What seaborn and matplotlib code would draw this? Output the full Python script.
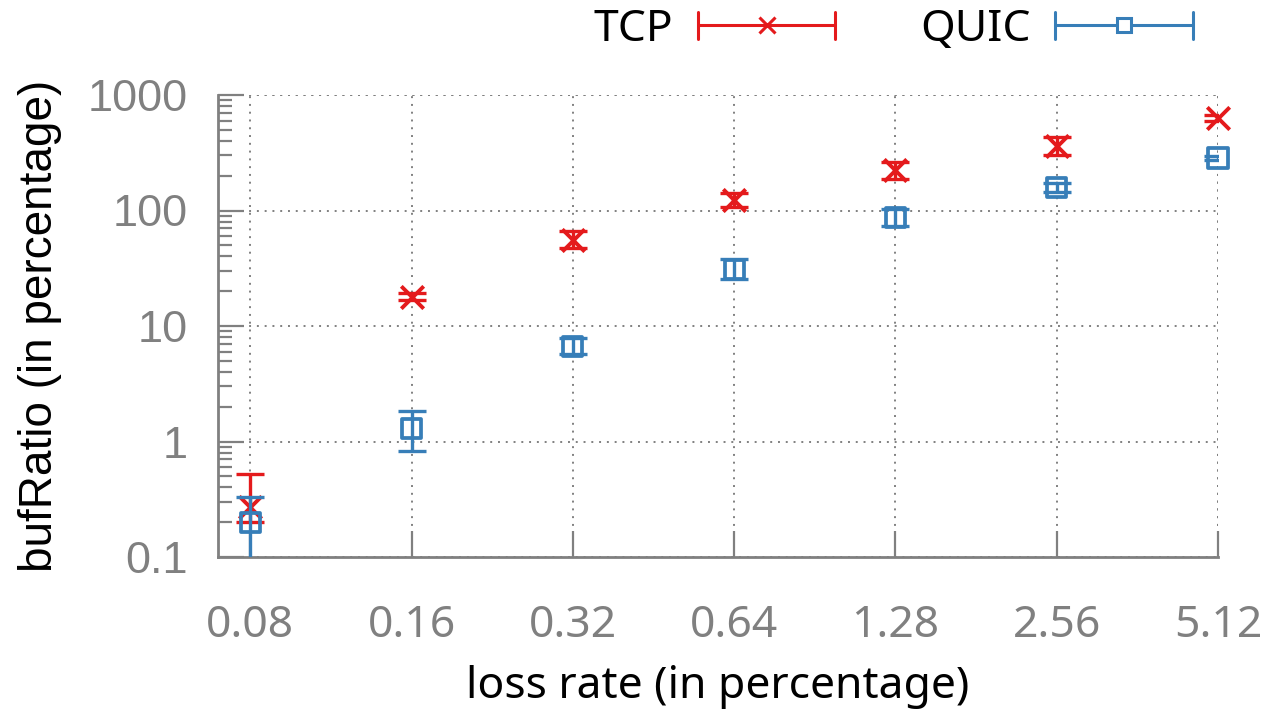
import numpy as np
import pandas as pd
import matplotlib
matplotlib.use("Agg")
import matplotlib.pyplot as plt
import seaborn as sns
from matplotlib.legend_handler import HandlerBase
from matplotlib.lines import Line2D
from matplotlib.ticker import LogLocator, NullFormatter

# ---- data ----
loss_rates = ["0.08", "0.16", "0.32", "0.64", "1.28", "2.56", "5.12"]
tcp_mean = [0.27, 18, 55, 123, 222, 365, 630]
tcp_low = [0.20, 16.8, 47, 107, 188, 305, 600]
tcp_high = [0.52, 19.5, 66, 142, 262, 430, 665]
quic_mean = [0.20, 1.30, 6.7, 31, 87, 157, 285]
quic_low = [0.05, 0.82, 5.7, 25.5, 74, 144, 272]
quic_high = [0.33, 1.82, 7.8, 38, 103, 172, 298]

yticks = [0.1, 1, 10, 100, 1000]
ytick_labels = ["0.1", "1", "10", "100", "1000"]

RED = "#e41a1c"
BLUE = "#377eb8"
GRAY = "#808080"

sns.set_style("white")
plt.rcParams["font.family"] = ["Noto Sans", "DejaVu Sans"]
plt.rcParams["text.color"] = "black"

fig = plt.figure(figsize=(12.69, 7.11), dpi=100)
ax = fig.add_axes([218 / 1269, 1 - 557 / 711, 1000 / 1269, (557 - 95) / 711])

x = np.arange(len(loss_rates))
df = pd.DataFrame({
    "x": np.concatenate([x, x]),
    "value": tcp_mean + quic_mean,
    "proto": ["TCP"] * len(x) + ["QUIC"] * len(x),
})

# error bars (clipped at the plot border)
ax.errorbar(x, tcp_mean,
            yerr=[np.array(tcp_mean) - np.array(tcp_low), np.array(tcp_high) - np.array(tcp_mean)],
            fmt="none", ecolor=RED, elinewidth=2.4, capsize=10, capthick=2.4, zorder=3)
ax.errorbar(x, quic_mean,
            yerr=[np.array(quic_mean) - np.array(quic_low), np.array(quic_high) - np.array(quic_mean)],
            fmt="none", ecolor=BLUE, elinewidth=2.4, capsize=10, capthick=2.4, zorder=5)

# markers via seaborn
sns.scatterplot(data=df[df.proto == "TCP"], x="x", y="value", ax=ax, marker="x",
                s=260, color=RED, linewidth=2.8, zorder=4, clip_on=False, legend=False)
sns.scatterplot(data=df[df.proto == "QUIC"], x="x", y="value", ax=ax, marker="s",
                s=190, facecolor="none", edgecolor=BLUE, linewidth=2.7, zorder=6,
                clip_on=False, legend=False)

ax.set_yscale("log")
ax.set_ylim(0.1, 1000)
ax.set_xlim(-0.2, 6)

ax.set_xticks(x)
ax.set_xticklabels(loss_rates, fontsize=32, color=GRAY, fontfamily="Noto Sans")
ax.set_yticks(yticks)
ax.set_yticklabels(ytick_labels, fontsize=32.5, color=GRAY, fontfamily="Liberation Sans")
ax.yaxis.set_minor_locator(LogLocator(base=10, subs=np.arange(2, 10)))
ax.yaxis.set_minor_formatter(NullFormatter())

ax.tick_params(axis="x", which="major", direction="in", length=19, width=1.6,
               color=GRAY, pad=34, bottom=True, top=False)
ax.tick_params(axis="y", which="major", direction="in", length=19, width=1.6,
               color=GRAY, pad=22, left=True, right=False)
ax.tick_params(axis="y", which="minor", direction="in", length=10, width=1.6,
               color=GRAY, left=True, right=False)

for side in ["top", "right"]:
    ax.spines[side].set_visible(False)
for side in ["left", "bottom"]:
    ax.spines[side].set_color(GRAY)
    ax.spines[side].set_linewidth(2)

ax.grid(True, which="major", axis="both", color=GRAY, linestyle=(0, (1, 3)), linewidth=1.4)
ax.set_axisbelow(True)
# top and right dotted border lines (gnuplot grid look)
ax.axhline(1000, color=GRAY, linestyle=(0, (1, 3)), linewidth=1.4, zorder=0.5)
ax.axvline(6, color=GRAY, linestyle=(0, (1, 3)), linewidth=1.4, zorder=0.5)

ax.set_xlabel("loss rate (in percentage)", fontsize=32, color="black",
              fontfamily="Noto Sans", labelpad=12)
ax.set_ylabel("bufRatio (in percentage)", fontsize=33, color="black",
              fontfamily="Liberation Sans", labelpad=18)


class GPHandler(HandlerBase):
    def create_artists(self, legend, orig_handle, xdescent, ydescent, width, height,
                       fontsize, trans):
        c = orig_handle.get_color()
        y = height / 2 - ydescent
        x0 = -xdescent
        x1 = x0 + width
        cap = 10
        lw = 2.2
        arts = [
            Line2D([x0, x1], [y, y], color=c, lw=lw),
            Line2D([x0, x0], [y - cap, y + cap], color=c, lw=lw),
            Line2D([x1, x1], [y - cap, y + cap], color=c, lw=lw),
            Line2D([(x0 + x1) / 2], [y], color=c, marker=orig_handle.get_marker(),
                   markersize=orig_handle.get_markersize(), markeredgewidth=2.2,
                   markerfacecolor="white" if orig_handle.get_marker() == "s" else c,
                   markeredgecolor=c, lw=0),
        ]
        for a in arts:
            a.set_transform(trans)
        return arts


h_tcp = Line2D([], [], color=RED, marker="x", markersize=12)
h_quic = Line2D([], [], color=BLUE, marker="s", markersize=10)
leg = fig.legend([h_tcp, h_quic], ["TCP", "QUIC"], loc="center right",
                 bbox_to_anchor=(1193 / 1269, 1 - 30 / 711), ncol=2, frameon=False,
                 markerfirst=False, handlelength=3.1, handletextpad=0.56,
                 columnspacing=1.9, borderpad=0, borderaxespad=0,
                 prop={"family": "Noto Sans", "size": 32},
                 handler_map={Line2D: GPHandler()})
for t in leg.get_texts():
    t.set_color("black")

fig.savefig("out.png", dpi=100)
